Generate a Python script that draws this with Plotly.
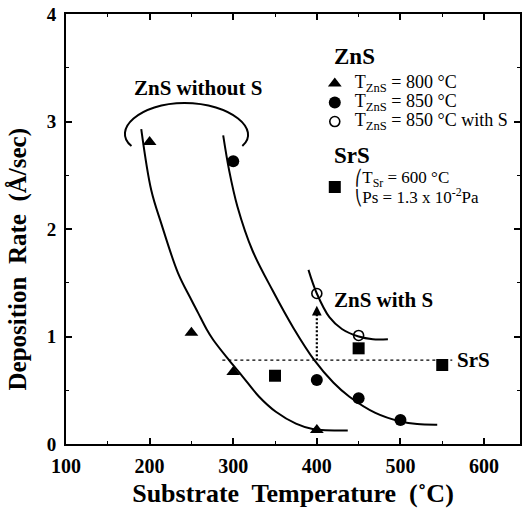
import plotly.graph_objects as go

# ---------------- data ----------------
# ZnS, T_ZnS = 800 C (filled triangles)
zns800_T = [200, 250, 300, 400]
zns800_R = [2.81, 1.035, 0.67, 0.13]
# ZnS, T_ZnS = 850 C (filled circles)
zns850_T = [300, 400, 450, 500]
zns850_R = [2.63, 0.595, 0.425, 0.223]
# ZnS, T_ZnS = 850 C with S (open circles)
zns850S_T = [400, 450]
zns850S_R = [1.40, 1.01]
# SrS (filled squares)
srs_T = [350, 450, 550]
srs_R = [0.635, 0.89, 0.735]

# hand-drawn guide curves
curve800_T = [190, 202, 214, 234, 250, 258, 268, 276, 295, 311, 331, 351, 375, 395, 437]
curve800_R = [2.93, 2.36, 2.05, 1.59, 1.34, 1.22, 1.07, 0.97, 0.78, 0.63, 0.44, 0.30, 0.19, 0.14, 0.125]
curve850_T = [288, 295, 305, 323, 347, 372, 397, 420, 439, 470, 500, 520, 544]
curve850_R = [2.87, 2.55, 2.21, 1.80, 1.43, 1.08, 0.78, 0.57, 0.44, 0.29, 0.21, 0.185, 0.18]
curveS_T = [390, 400, 415, 430, 450, 467, 485]
curveS_R = [1.62, 1.40, 1.18, 1.07, 1.00, 0.975, 0.975]

# SrS reference level (dotted) and ZnS-with-S arrow
srs_level_T = [287, 562]
srs_level_R = [0.78, 0.78]
arrow_T = [400, 400]
arrow_R = [0.78, 1.22]
arrow_tip_R = 1.285

x_ticks = [100, 200, 300, 400, 500, 600]
y_ticks = [0, 1, 2, 3, 4]

SERIF = "Liberation Serif"

fig = go.Figure()

line_style = dict(color="black", width=2, shape="spline", smoothing=1.0)
for cx, cy in [(curve800_T, curve800_R), (curve850_T, curve850_R), (curveS_T, curveS_R)]:
    fig.add_trace(go.Scatter(x=cx, y=cy, mode="lines", line=line_style,
                             showlegend=False, hoverinfo="skip"))

fig.add_trace(go.Scatter(x=srs_level_T, y=srs_level_R, mode="lines",
                         line=dict(color="black", width=1.2, dash="3px,3px"),
                         showlegend=False, hoverinfo="skip"))
fig.add_trace(go.Scatter(x=arrow_T, y=arrow_R, mode="lines",
                         line=dict(color="black", width=2.2, dash="2px,2px"),
                         showlegend=False, hoverinfo="skip"))

def big(s, px=18):
    return "<span style='font-size:%dpx'>%s</span>" % (px, s)

fig.add_trace(go.Scatter(x=zns800_T, y=zns800_R, mode="markers",
                         name=big("T<sub>ZnS</sub> = 800 °C"),
                         marker=dict(symbol="triangle-up", size=12, color="black"),
                         legend="legend"))
fig.add_trace(go.Scatter(x=zns850_T, y=zns850_R, mode="markers",
                         name=big("T<sub>ZnS</sub> = 850 °C"),
                         marker=dict(symbol="circle", size=12, color="black"),
                         legend="legend"))
fig.add_trace(go.Scatter(x=zns850S_T, y=zns850S_R, mode="markers",
                         name=big("T<sub>ZnS</sub> = 850 °C with S"),
                         marker=dict(symbol="circle-open", size=10, color="black",
                                     line=dict(width=1.6, color="black")),
                         legend="legend"))
fig.add_trace(go.Scatter(x=srs_T, y=srs_R, mode="markers",
                         name=big("<span style='font-family:DejaVu Sans;font-size:15px'>\u239b</span>"
                                  "T<sub>Sr</sub> = 600 °C", 17)
                              + "<br>"
                              + big("<span style='font-family:DejaVu Sans;font-size:15px'>\u239d</span>"
                                    "Ps = 1.3 x 10<sup>-2</sup>Pa", 17),
                         marker=dict(symbol="square", size=12, color="black"),
                         legend="legend2"))

# arrow head of the dotted arrow
fig.add_annotation(x=arrow_T[0], y=arrow_tip_R, ax=arrow_T[0], ay=arrow_R[1],
                   xref="x", yref="y", axref="x", ayref="y", text="",
                   showarrow=True, arrowhead=2, arrowsize=1.3, arrowwidth=1.5,
                   arrowcolor="black")

# bracket above the two "without S" curves
fig.add_shape(type="path", xref="x", yref="y",
              path="M 178.3,2.772 C 154.4,2.921 187.8,3.172 241.6,3.172 "
                   "C 297.7,3.172 333.6,2.921 310.9,2.772",
              line=dict(color="black", width=2))

lab_font = dict(family=SERIF, size=21, color="black", weight="bold")
fig.add_annotation(x=258, y=3.31, xref="x", yref="y", text="ZnS without S",
                   showarrow=False, font=lab_font)
fig.add_annotation(x=418, y=1.34, xref="x", yref="y", text="ZnS with S",
                   showarrow=False, xanchor="left", font=lab_font)
fig.add_annotation(x=565, y=0.78, xref="x", yref="y", text="SrS",
                   showarrow=False, xanchor="left", font=lab_font)

# legend headings
head_font = dict(family=SERIF, size=23, color="black", weight="bold")
fig.add_annotation(x=0.5855, y=0.900, xref="paper", yref="paper", text="ZnS",
                   showarrow=False, xanchor="left", yanchor="middle", font=head_font)
fig.add_annotation(x=0.5855, y=0.672, xref="paper", yref="paper", text="SrS",
                   showarrow=False, xanchor="left", yanchor="middle", font=head_font)

# y axis title (placed like the reference)
fig.add_annotation(x=-0.105, y=0.43, xref="paper", yref="paper",
                   text="Deposition\u00a0 Rate\u00a0 (Å/sec)", textangle=-90,
                   showarrow=False, xanchor="center", yanchor="middle",
                   font=dict(family=SERIF, size=25, color="black", weight="bold"))

fig.update_layout(
    width=525, height=508,
    margin=dict(l=66, r=3, t=14, b=64),
    paper_bgcolor="white", plot_bgcolor="white",
    legend=dict(x=0.548, y=0.872, xanchor="left", yanchor="top",
                font=dict(family=SERIF, size=11, color="black"),
                bgcolor="rgba(0,0,0,0)", tracegroupgap=0),
    legend2=dict(x=0.548, y=0.658, xanchor="left", yanchor="top",
                 font=dict(family=SERIF, size=15, color="black"),
                 bgcolor="rgba(0,0,0,0)"),
)

fig.update_xaxes(
    range=[100, 643], tickvals=x_ticks, ticktext=[str(v) for v in x_ticks],
    ticks="inside", ticklen=6, tickwidth=1.5, tickcolor="black",
    minor=dict(dtick=50, tick0=100, ticks="inside", ticklen=3, tickwidth=1, tickcolor="black"),
    showline=True, linewidth=2, linecolor="black", mirror="ticks",
    showgrid=False, zeroline=False,
    tickfont=dict(family=SERIF, size=20, color="black", weight="bold"),
    ticklabelstandoff=3,
    title=dict(text="Substrate\u00a0 Temperature\u00a0 (˚C)",
               font=dict(family=SERIF, size=26, color="black", weight="bold"),
               standoff=10),
)
fig.update_yaxes(
    range=[0, 4], tickvals=y_ticks, ticktext=[str(v) for v in y_ticks],
    ticks="inside", ticklen=6, tickwidth=1.5, tickcolor="black",
    minor=dict(dtick=0.5, tick0=0, ticks="inside", ticklen=3, tickwidth=1, tickcolor="black"),
    showline=True, linewidth=2, linecolor="black", mirror="ticks",
    showgrid=False, zeroline=False,
    tickfont=dict(family=SERIF, size=19, color="black", weight="bold"),
    ticklabelstandoff=4,
)

fig.write_html("out.html")
